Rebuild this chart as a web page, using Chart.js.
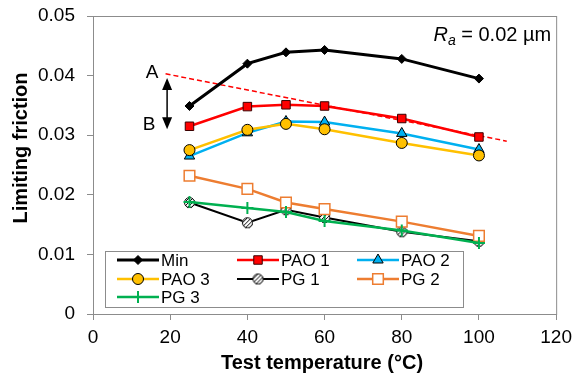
<!DOCTYPE html>
<html>
<head>
<meta charset="utf-8">
<script src="https://cdn.jsdelivr.net/npm/chart.js@4.4.1/dist/chart.umd.min.js"></script>
<style>
  html, body { margin: 0; padding: 0; background: #fff; }
  #wrap { width: 578px; height: 379px; }
</style>
</head>
<body>
<div id="wrap"><canvas id="chart"></canvas></div>
<script>
// valori
const temps = [25, 40, 50, 60, 80, 100];
const minVals  = [0.0349, 0.0420, 0.0439, 0.0443, 0.0428, 0.0395];
const pao1Vals = [0.0315, 0.0348, 0.0351, 0.0349, 0.0328, 0.0297];
const pao2Vals = [0.0265, 0.0304, 0.0323, 0.0322, 0.0303, 0.0276];
const pao3Vals = [0.0275, 0.0309, 0.0319, 0.0310, 0.0287, 0.0266];
const pg1Vals  = [0.0187, 0.0153, 0.0175, 0.0162, 0.0138, 0.0122];
const pg2Vals  = [0.0232, 0.0210, 0.0187, 0.0176, 0.0155, 0.0131];
const pg3Vals  = [0.0188, 0.0178, 0.0171, 0.0156, 0.0140, 0.0119];
const seriesNames = ['Min', 'PAO 1', 'PAO 2', 'PAO 3', 'PG 1', 'PG 2', 'PG 3'];

// linea tratteggiata A-B e freccia
const trendX = [18.8, 107.2];
const trendY = [0.0403, 0.0290];
const arrowX = 19.2;
const arrowY = [0.0396, 0.0310];

const xTicks = [0, 20, 40, 60, 80, 100, 120];
const yTicks = [0, 0.01, 0.02, 0.03, 0.04, 0.05];

const FONT = '"Liberation Sans", Arial, sans-serif';
const AXIS_GREY = '#8c8c8c';

const toXY = vals => vals.map((v, i) => ({ x: temps[i], y: v }));

// cerchio tratteggiato per PG 1
function hatchCircle(r) {
  const s = Math.ceil(r * 2 + 2);
  const c = document.createElement('canvas');
  c.width = c.height = s;
  const g = c.getContext('2d');
  const m = s / 2;
  g.beginPath(); g.arc(m, m, r, 0, Math.PI * 2);
  g.fillStyle = '#fff'; g.fill();
  g.save(); g.clip();
  g.strokeStyle = '#000'; g.lineWidth = 1;
  for (let k = -s; k < s * 2; k += 4) {
    g.beginPath(); g.moveTo(k, s); g.lineTo(k + s, 0); g.stroke();
  }
  g.restore();
  g.beginPath(); g.arc(m, m, r - 0.5, 0, Math.PI * 2);
  g.lineWidth = 1; g.strokeStyle = '#000'; g.stroke();
  return c;
}
const pg1Marker = hatchCircle(5.5);

function series(label, vals, color, width, style, radius, fill, border, order) {
  return {
    label: label,
    data: toXY(vals),
    borderColor: color,
    borderWidth: width,
    pointStyle: style,
    pointRadius: radius,
    pointHoverRadius: radius,
    pointBackgroundColor: fill,
    pointBorderColor: border,
    pointBorderWidth: 1,
    order: order
  };
}

const datasets = [
  series(seriesNames[0], minVals,  '#000000', 3,   'rectRot',  4.5, '#000000', '#000000', 7),
  series(seriesNames[1], pao1Vals, '#ff0000', 2.5, 'rect',     6,   '#ff0000', '#3a0000', 6),
  series(seriesNames[2], pao2Vals, '#00b0f0', 2.5, 'triangle', 6,   '#00b0f0', '#000000', 5),
  series(seriesNames[3], pao3Vals, '#ffc000', 2.5, 'circle',   5.5, '#ffc000', '#000000', 4),
  series(seriesNames[4], pg1Vals,  '#000000', 2,   pg1Marker,  5.5, '#ffffff', '#000000', 3),
  series(seriesNames[5], pg2Vals,  '#ed7d31', 2.5, 'rect',     7.5, '#ffffff', '#ed7d31', 2),
  series(seriesNames[6], pg3Vals,  '#00b050', 2.5, 'cross',    6,   '#00b050', '#00b050', 1)
];
datasets[5].pointBorderWidth = 1.5;
datasets[6].pointBorderWidth = 2;

datasets.push({
  label: 'trend',
  data: trendX.map((x, i) => ({ x: x, y: trendY[i] })),
  borderColor: '#ff0000',
  borderWidth: 1.5,
  borderDash: [5, 3],
  pointRadius: 0,
  order: 10
});

// cornice dell'area del grafico + testi + legenda
const extras = {
  id: 'extras',
  beforeDatasetsDraw(chart) {
    const { ctx, chartArea: a } = chart;
    ctx.save();
    ctx.strokeStyle = AXIS_GREY;
    ctx.lineWidth = 1;
    ctx.strokeRect(a.left + 0.5, a.top + 0.5, a.right - a.left, a.bottom - a.top);
    ctx.restore();
  },
  afterDatasetsDraw(chart) {
    const { ctx, scales: { x, y }, chartArea: a } = chart;
    ctx.save();
    // freccia doppia
    const ax = x.getPixelForValue(arrowX);
    const y1 = y.getPixelForValue(arrowY[0]);
    const y2 = y.getPixelForValue(arrowY[1]);
    ctx.strokeStyle = '#000'; ctx.fillStyle = '#000'; ctx.lineWidth = 1.5;
    ctx.beginPath(); ctx.moveTo(ax, y1 + 10); ctx.lineTo(ax, y2 - 10); ctx.stroke();
    ctx.beginPath(); ctx.moveTo(ax, y1); ctx.lineTo(ax - 5, y1 + 12); ctx.lineTo(ax + 5, y1 + 12); ctx.closePath(); ctx.fill();
    ctx.beginPath(); ctx.moveTo(ax, y2); ctx.lineTo(ax - 5, y2 - 12); ctx.lineTo(ax + 5, y2 - 12); ctx.closePath(); ctx.fill();
    ctx.font = '19px ' + FONT;
    ctx.textAlign = 'center'; ctx.textBaseline = 'middle';
    ctx.fillText('A', ax - 15, y1 - 5);
    ctx.fillText('B', ax - 18, y2 - 4);

    // R_a = 0.02 µm
    ctx.textAlign = 'left'; ctx.textBaseline = 'alphabetic';
    const rest = ' = 0.02 µm';
    ctx.font = '20px ' + FONT;
    const wRest = ctx.measureText(rest).width;
    ctx.font = 'italic 20px ' + FONT;
    const wR = ctx.measureText('R').width;
    ctx.font = 'italic 14px ' + FONT;
    const wa = ctx.measureText('a').width;
    const xr = a.right - 5 - wRest - wa - wR;
    const base = 41;
    ctx.font = 'italic 20px ' + FONT;
    ctx.fillText('R', xr, base);
    ctx.font = 'italic 14px ' + FONT;
    ctx.fillText('a', xr + wR, base + 4);
    ctx.font = '20px ' + FONT;
    ctx.fillText(rest, xr + wR + wa, base);

    // titoli degli assi
    ctx.font = 'bold 20px ' + FONT;
    ctx.textAlign = 'center'; ctx.textBaseline = 'middle';
    ctx.fillText('Test temperature (°C)', 322, 363);
    ctx.translate(21, 148);
    ctx.rotate(-Math.PI / 2);
    ctx.fillText('Limiting friction', 0, 0);
    ctx.restore();
  },
  afterDraw(chart) {
    const ctx = chart.ctx;
    ctx.save();
    ctx.fillStyle = '#fff';
    ctx.fillRect(105, 251, 358, 56);
    ctx.strokeStyle = AXIS_GREY; ctx.lineWidth = 1;
    ctx.strokeRect(105.5, 251.5, 358, 56);
    const cols = [117, 237, 357];
    const rows = [260, 279, 297];
    ctx.font = '17px ' + FONT;
    ctx.textBaseline = 'middle';
    seriesNames.forEach((name, i) => {
      const ds = chart.data.datasets[i];
      const lx = cols[i % 3], ly = rows[Math.floor(i / 3)];
      ctx.strokeStyle = ds.borderColor;
      ctx.lineWidth = ds.borderWidth;
      ctx.setLineDash([]);
      ctx.beginPath(); ctx.moveTo(lx, ly); ctx.lineTo(lx + 42, ly); ctx.stroke();
      ctx.fillStyle = ds.pointBackgroundColor;
      ctx.strokeStyle = ds.pointBorderColor;
      ctx.lineWidth = ds.pointBorderWidth;
      Chart.helpers.drawPoint(ctx, {
        pointStyle: ds.pointStyle, radius: ds.pointRadius, rotation: 0, borderWidth: ds.pointBorderWidth
      }, lx + 21, ly);
      ctx.fillStyle = '#000';
      ctx.textAlign = 'left';
      ctx.fillText(name, lx + 44, ly + 1);
    });
    ctx.restore();
  }
};

new Chart(document.getElementById('chart'), {
  type: 'line',
  data: { datasets: datasets },
  plugins: [extras],
  options: {
    responsive: true,
    maintainAspectRatio: false,
    animation: false,
    layout: { padding: { left: 0, top: 16, right: 16, bottom: 0 } },
    plugins: { legend: { display: false }, tooltip: { enabled: false } },
    elements: { line: { tension: 0 } },
    scales: {
      x: {
        type: 'linear',
        min: 0, max: 120,
        afterFit: s => { s.height = 65; },
        afterBuildTicks: s => { s.ticks = xTicks.map(v => ({ value: v })); },
        grid: { drawOnChartArea: false, drawTicks: true, tickLength: 6, color: AXIS_GREY },
        border: { display: true, color: AXIS_GREY },
        ticks: { color: '#000', font: { family: FONT, size: 19 }, padding: 6, maxRotation: 0 }
      },
      y: {
        min: 0, max: 0.05,
        afterFit: s => { s.width = 93; s.paddingTop = 0; s.paddingBottom = 0; },
        afterBuildTicks: s => { s.ticks = yTicks.map(v => ({ value: v })); },
        grid: { drawOnChartArea: false, drawTicks: true, tickLength: 6, color: AXIS_GREY },
        border: { display: true, color: AXIS_GREY },
        ticks: {
          color: '#000', font: { family: FONT, size: 19 }, padding: 12,
          callback: v => (v === 0 ? '0' : v.toFixed(2))
        }
      }
    }
  }
});
</script>
</body>
</html>
